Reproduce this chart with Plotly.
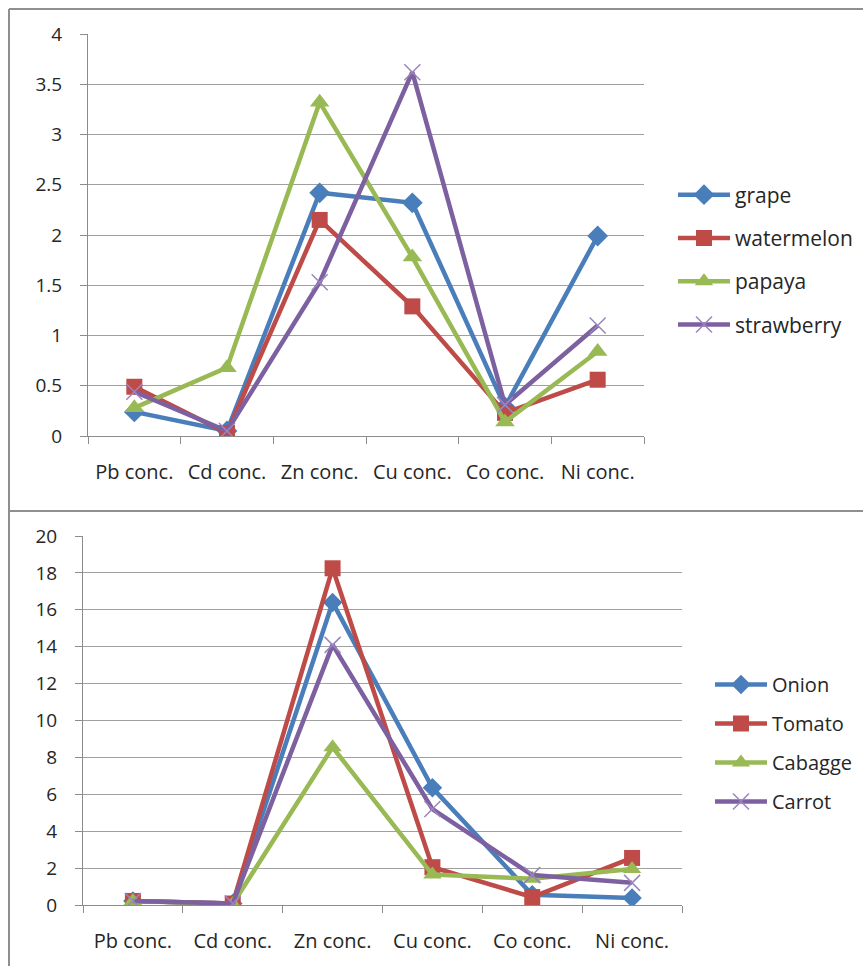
import plotly.graph_objects as go

W, H = 863, 966

categories = ["Pb conc.", "Cd conc.", "Zn conc.", "Cu conc.", "Co conc.", "Ni conc."]

# Top panel (fruits)
grape = [0.24, 0.05, 2.42, 2.32, 0.29, 1.99]
watermelon = [0.49, 0.03, 2.15, 1.29, 0.23, 0.56]
papaya = [0.28, 0.68, 3.32, 1.78, 0.14, 0.84]
strawberry = [0.44, 0.05, 1.53, 3.62, 0.31, 1.10]

# Bottom panel (vegetables)
onion = [0.22, 0.08, 16.4, 6.35, 0.55, 0.38]
tomato = [0.22, 0.08, 18.25, 2.05, 0.43, 2.55]
cabagge = [0.22, 0.05, 8.55, 1.65, 1.42, 1.95]
carrot = [0.22, 0.08, 14.1, 5.2, 1.62, 1.2]

top_ticks = [0, 0.5, 1, 1.5, 2, 2.5, 3, 3.5, 4]
top_ticklabels = ["0", "0.5", "1", "1.5", "2", "2.5", "3", "3.5", "4"]
bottom_ticks = [0, 2, 4, 6, 8, 10, 12, 14, 16, 18, 20]

BLUE, RED, GREEN, PURPLE = "#4A7EBB", "#BE4B48", "#98B954", "#7D60A0"
FONT = "'Open Sans', Lato, sans-serif"
TXT = "#262626"

def px_x(p):
    return p / W

def px_y(p):
    return 1 - p / H

fig = go.Figure()

def add(name, ys, color, symbol, size, lw, xa, ya, legend, group, xsym=False):
    if xsym:
        marker = dict(symbol="x-thin", size=size, color=color,
                      line=dict(width=1.5, color="#9A85BE"))
    else:
        marker = dict(symbol=symbol, size=size, color=color,
                      line=dict(width=0))
    fig.add_trace(go.Scatter(
        x=categories, y=ys, name=name, mode="lines+markers",
        line=dict(color=color, width=lw), marker=marker,
        xaxis=xa, yaxis=ya, legend=legend, legendgroup=group,
    ))

add("grape", grape, BLUE, "diamond", 16, 4.5, "x", "y", "legend", "g1")
add("watermelon", watermelon, RED, "square", 16, 4.5, "x", "y", "legend", "g2")
add("papaya", papaya, GREEN, "triangle-up", 17, 4.5, "x", "y", "legend", "g3")
add("strawberry", strawberry, PURPLE, "x-thin", 16, 4.5, "x", "y", "legend", "g4", xsym=True)

add("Onion", onion, BLUE, "diamond", 15, 4.5, "x2", "y2", "legend2", "h1")
add("Tomato", tomato, RED, "square", 16, 4.5, "x2", "y2", "legend2", "h2")
add("Cabagge", cabagge, GREEN, "triangle-up", 16, 4.5, "x2", "y2", "legend2", "h3")
add("Carrot", carrot, PURPLE, "x-thin", 16, 4.5, "x2", "y2", "legend2", "h4", xsym=True)

GRID = "#A0A0A0"
AX = "#8C8C8C"

xcommon = dict(type="category", tickson="boundaries", ticks="outside", ticklen=7,
               tickcolor=AX, showline=True, linecolor=AX, linewidth=1,
               showgrid=False, zeroline=False, automargin=False,
               tickfont=dict(family=FONT, size=20, color=TXT),
               ticklabelstandoff=18, range=[-0.5, 5.5], fixedrange=True)
ycommon = dict(ticks="outside", ticklen=7, tickcolor=AX, showline=True,
               linecolor=AX, linewidth=1, showgrid=True, gridcolor=GRID,
               gridwidth=1, zeroline=False, automargin=False,
               tickfont=dict(family=FONT, size=19, color=TXT),
               ticklabelstandoff=14, fixedrange=True)

fig.update_layout(
    width=W, height=H,
    margin=dict(l=0, r=0, t=0, b=0, autoexpand=False),
    paper_bgcolor="white", plot_bgcolor="white",
    font=dict(family=FONT, color=TXT),
    xaxis=dict(domain=[px_x(88), px_x(644)], anchor="y", **xcommon),
    yaxis=dict(domain=[px_y(436), px_y(34)], anchor="x", range=[0, 4],
               tickvals=top_ticks, ticktext=top_ticklabels, **ycommon),
    xaxis2=dict(domain=[px_x(83), px_x(682)], anchor="y2", **xcommon),
    yaxis2=dict(domain=[px_y(905), px_y(536)], anchor="x2", range=[0, 20],
                tickvals=bottom_ticks, **ycommon),
    legend=dict(x=px_x(673), xanchor="left", y=px_y(260), yanchor="middle",
                font=dict(family=FONT, size=21, color=TXT),
                tracegroupgap=13, bgcolor="rgba(0,0,0,0)", itemwidth=52),
    legend2=dict(x=px_x(710), xanchor="left", y=px_y(743), yanchor="middle",
                 font=dict(family=FONT, size=20, color=TXT),
                 tracegroupgap=10, bgcolor="rgba(0,0,0,0)", itemwidth=52),
    shapes=[
        dict(type="line", xref="paper", yref="paper", x0=px_x(9), x1=1.0,
             y0=px_y(9), y1=px_y(9), line=dict(color="#8F8F8F", width=2)),
        dict(type="line", xref="paper", yref="paper", x0=px_x(9), x1=1.0,
             y0=px_y(511), y1=px_y(511), line=dict(color="#8F8F8F", width=2)),
        dict(type="line", xref="paper", yref="paper", x0=px_x(9), x1=px_x(9),
             y0=px_y(9), y1=0, line=dict(color="#8F8F8F", width=2)),
    ],
)

fig.write_html("out.html", config={"displayModeBar": False},
               post_script="document.body.style.margin='0';")
